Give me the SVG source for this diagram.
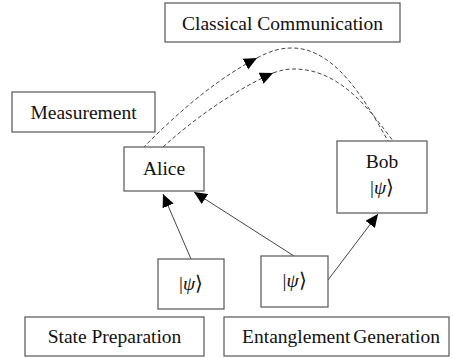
<svg xmlns="http://www.w3.org/2000/svg" width="453" height="358" viewBox="0 0 453 358">
<defs>
<style>
.box{fill:#fff;stroke:#555;stroke-width:1.2}
.t{font-family:"Liberation Serif","Times New Roman",serif;font-size:19.5px;fill:#111;text-anchor:middle}
.psi{font-style:italic}
.arr{fill:none;stroke:#444;stroke-width:1}
.dash{fill:none;stroke:#444;stroke-width:1;stroke-dasharray:4 2.5}
</style>
<marker id="ah" markerWidth="14" markerHeight="12" refX="13" refY="6" orient="auto" markerUnits="userSpaceOnUse">
<path d="M0,0 L13,6 L0,12 Z" fill="#000"/>
</marker>
</defs>
<rect width="453" height="358" fill="#fff"/>
<g id="connectors">
<path class="arr" d="M191,259 L163,194" marker-end="url(#ah)"/>
<path class="arr" d="M294,256 L194,192" marker-end="url(#ah)"/>
<path class="arr" d="M328,280 L378,214" marker-end="url(#ah)"/>
<path class="dash" d="M143,148 C175,115 215,80 257,58" marker-end="url(#ah)"/>
<path class="dash" d="M257,58 C270,51 280,48 292,48 C335,48 365,100 388,141"/>
<path class="dash" d="M163,147 C195,118 235,90 273,73" marker-end="url(#ah)"/>
<path class="dash" d="M273,73 C281,70 287,69 294,69 C340,69 370,110 393,141"/>
</g>
<g id="classical">
<rect class="box" x="165" y="3" width="235" height="39"/>
<text class="t" x="282.5" y="29.5">Classical Communication</text>
</g>
<g id="measurement">
<rect class="box" x="12" y="92" width="143" height="40"/>
<text class="t" x="83.5" y="119">Measurement</text>
</g>
<g id="alice">
<rect class="box" x="124" y="147" width="80" height="44"/>
<text class="t" x="164" y="175">Alice</text>
</g>
<g id="bob">
<rect class="box" x="337" y="141" width="90" height="72"/>
<text class="t" x="382" y="168">Bob</text>
<text class="t" x="382" y="194">|<tspan class="psi">ψ</tspan>⟩</text>
</g>
<g id="psi1">
<rect class="box" x="158" y="259" width="66" height="50"/>
<text class="t" x="191" y="290">|<tspan class="psi">ψ</tspan>⟩</text>
</g>
<g id="psi2">
<rect class="box" x="261" y="256" width="67" height="51"/>
<text class="t" x="294.5" y="287">|<tspan class="psi">ψ</tspan>⟩</text>
</g>
<g id="state-prep">
<rect class="box" x="25" y="317" width="179" height="39"/>
<text class="t" x="114.5" y="343">State Preparation</text>
</g>
<g id="entanglement">
<rect class="box" x="224" y="317" width="225" height="39"/>
<text class="t" x="341" y="343" word-spacing="-2">Entanglement Generation</text>
</g>
</svg>
